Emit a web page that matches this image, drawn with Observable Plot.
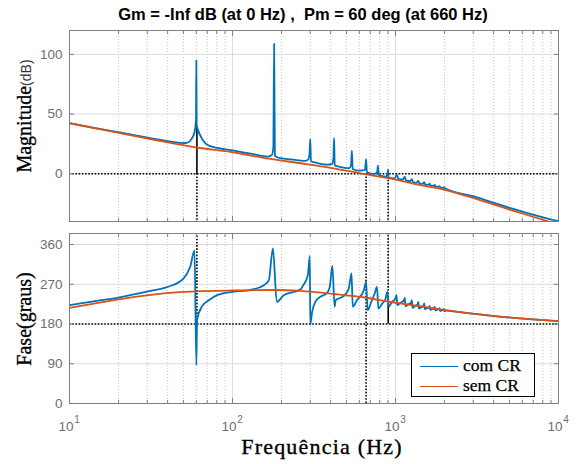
<!DOCTYPE html>
<html><head><meta charset="utf-8">
<script src="https://cdn.jsdelivr.net/npm/d3@7"></script>
<script src="https://cdn.jsdelivr.net/npm/@observablehq/plot@0.6"></script>
<style>
body{margin:0;background:#fff;}
#wrap{position:relative;width:580px;height:464px;overflow:hidden;background:#fff;font-family:"Liberation Sans",Arial,sans-serif;}
#wrap svg{position:absolute;left:0;overflow:visible;}
.abs{position:absolute;white-space:nowrap;line-height:1;}
.title{font-weight:bold;font-size:16.5px;color:#000;transform:translateX(-50%);}
.ylab{transform:translate(-50%,-50%) rotate(-90deg);color:#000;}
.serif{font-family:"Liberation Serif","Times New Roman",serif;-webkit-text-stroke:0.35px #000;}
.legend{border:1.5px solid #000;background:#fff;box-sizing:border-box;}
.legend .row{position:absolute;left:8px;height:20px;display:flex;align-items:center;}
.legend .sw{width:38px;height:0;border-top:1.5px solid;margin-right:5px;}
.legend .tx{font-family:"Liberation Serif",serif;font-size:17.5px;color:#000;-webkit-text-stroke:0.25px #000;}
</style></head><body><div id="wrap"></div><script>
// ---------- data ----------
const decades = [10, 100, 1000, 10000];
const decadeExps = ["1", "2", "3", "4"];
const magTicks = [0, 50, 100];
const phaseTicks = [0, 90, 180, 270, 360];
const magDomain = [-40, 120];
const phaseDomain = [0, 385];

// "com CR" magnitude (dB)
const comMagFreq = [10,15,20,31.4,42,50,53,56,58.5,59.7,60,60.3,71.6,100,130,165,174,178,180,182,190,230,280,292,297,300,303,320,380,410,416,420,424,450,520,534,540,546,600,650,660,668,740,772,780,790,870,894,900,908,990,1020,1040,1110,1140,1160,1230,1260,1280,1350,1380,1400,1470,1500,1520,1590,1620,1640,1710,1740,1760,1830,1860,1880,1950,1980,2000,3020,5000,8710,10000];
const comMag = [42.5,37.8,34.8,29.8,26.8,25.6,26,29,35,45,95,39.7,23.5,19.5,16.8,14.4,15.5,22,109,15,13.6,12,10.8,12,17,29,10.5,9.5,7.6,8.3,13,30,7,6,4.6,7.5,19.3,4,2.6,3,12.3,1.2,-0.2,1.5,6.7,-1.2,-2.4,0,3.4,-3.2,-3.8,-0.8,-4.3,-4.8,-2.5,-5.6,-6.3,-4.5,-6.9,-7.5,-5.9,-8,-8.5,-7,-8.9,-9.4,-8.2,-9.7,-10.2,-9.3,-10.5,-11,-10.3,-11.3,-11.8,-11.3,-12,-19,-28.5,-37.8,-39.7];

// "sem CR" magnitude (dB)
const semMagFreq = [10,15,20,31.4,45,60,100,167,261,400,660,1000,1420,2000,3020,5000,8710,10000];
const semMag = [42.3,37.6,34.3,29.1,25,22,18,12.6,8.8,5,-0.5,-5,-9.5,-13.5,-20.5,-30,-40,-42.5];

// "com CR" phase (deg)
const comPhFreq = [10,15,20,31.4,40,50,55,58.5,60,60.6,65,71.6,80.5,100,128,156,167,177,187,206,261,272,290,298,300,308,322,345,380,395,410,423,430,480,517,537,547,580,640,660,675,710,745,770,785,830,870,890,910,950,995,1014,1025,1070,1125,1140,1152,1200,1248,1260,1272,1325,1368,1380,1392,1445,1488,1500,1512,1565,1608,1620,1632,1690,1728,1740,1752,1810,1848,1860,1872,1930,1968,1980,1992,2050,2200,3800,7000,10000];
const comPh = [223,233,240,255,264,283,309.5,347,87,189,220,234,245.5,253,257,268,279,351,230,245,258,268,290.7,334,179,207.6,230,241.6,250,264,311.7,219,234,243,260.6,294.5,219,234,256.7,275.6,211.5,230,249,264,215,226.6,238,253,219,230,237,245.4,222.8,228,233,239.4,220,224.5,229,234,216.7,221.5,225.5,230,215,218.5,222,226.6,213.7,216,218.5,221,212,214,216.5,218.5,211,212.5,214.5,216,210,211,212.5,214,209.5,210.5,209,199,190.5,186.5];

// "sem CR" phase (deg)
const semPhFreq = [10,15,20,31.4,45,60,100,180,261,420,660,900,1500,2000,3800,7000,10000];
const semPh = [216.5,228,236,246,251.5,254,256,257,255,248,239.5,231,219,212,199,190.5,186.5];

// margin markers
const marginFreqs = [60.5, 660, 902];
const gmMag = [39.7];
const pmPhase = [225];

const seriesNames = ["com CR", "sem CR"];
// ---------------------------------------------------

const blue = "#0072BD", orange = "#D95319";
const gridMajor = "#dcdcdc", gridMinor = "#c4c4c4", axisCol = "#808080", labCol = "#6e6e6e";
const rows = (f, v) => f.map((x, i) => ({f: x, v: v[i]}));
const minor = decades.slice(0, 3).flatMap(d => [2,3,4,5,6,7,8,9].map(m => d * m));
const dotted = {stroke: "#000", strokeWidth: 1.6, strokeDasharray: "1.6,1.6"};
const sans = "Liberation Sans, Arial, sans-serif";

function frameMarks(yTicks) {
  return [
    Plot.ruleX(minor, {stroke: gridMinor, strokeWidth: 1, strokeDasharray: "1,2"}),
    Plot.ruleX(decades, {stroke: gridMajor, strokeWidth: 1}),
    Plot.ruleY(yTicks, {stroke: gridMajor, strokeWidth: 1}),
  ];
}
function axesMarks(yTicks) {
  const t = {fill: "none", stroke: axisCol, label: null};
  return [
    Plot.axisX(decades, {...t, anchor: "bottom", tickSize: -5}),
    Plot.axisX(decades, {...t, anchor: "top", tickSize: -5}),
    Plot.axisX(minor, {...t, anchor: "bottom", tickSize: -3}),
    Plot.axisX(minor, {...t, anchor: "top", tickSize: -3}),
    Plot.axisY(yTicks, {...t, anchor: "left", tickSize: -5}),
    Plot.axisY(yTicks, {...t, anchor: "right", tickSize: -5}),
    Plot.axisY(yTicks, {anchor: "left", tickSize: 0, tickPadding: 7, fill: labCol, fontSize: 13.5, label: null, fontFamily: sans}),
    Plot.frame({stroke: axisCol, strokeWidth: 1})
  ];
}
const lineOpts = (c) => ({x: "f", y: "v", stroke: c, strokeWidth: 1.8, curve: "monotone-x", clip: true});

const magPlot = Plot.plot({
  width: 580, height: 230, marginLeft: 69, marginRight: 22, marginTop: 30, marginBottom: 9,
  x: {type: "log", domain: [10, 10000], label: null, axis: null},
  y: {domain: magDomain, label: null, axis: null},
  style: {background: "transparent"},
  marks: [
    ...frameMarks(magTicks),
    Plot.ruleY([0], dotted),
    Plot.ruleX(marginFreqs, {x: d => d, y1: 0, y2: magDomain[0], ...dotted}),
    Plot.ruleX(marginFreqs.slice(0, 1), {x: d => d, y1: 0, y2: gmMag[0], stroke: "#000", strokeWidth: 1.6}),
    Plot.line(rows(comMagFreq, comMag), lineOpts(blue)),
    Plot.line(rows(semMagFreq, semMag), lineOpts(orange)),
    ...axesMarks(magTicks)
  ]
});

const phPlot = Plot.plot({
  width: 580, height: 234, marginLeft: 69, marginRight: 22, marginTop: 3, marginBottom: 61,
  x: {type: "log", domain: [10, 10000], label: null, axis: null},
  y: {domain: phaseDomain, label: null, axis: null},
  style: {background: "transparent"},
  marks: [
    ...frameMarks(phaseTicks),
    Plot.ruleY([180], dotted),
    Plot.ruleX([marginFreqs[0]], {x: d => d, y1: 180, y2: phaseDomain[1], ...dotted}),
    Plot.ruleX([marginFreqs[1]], {x: d => d, y1: 0, y2: phaseDomain[1], ...dotted}),
    Plot.ruleX([marginFreqs[2]], {x: d => d, y1: pmPhase[0], y2: phaseDomain[1], ...dotted}),
    Plot.ruleX([marginFreqs[2]], {x: d => d, y1: 180, y2: pmPhase[0], stroke: "#000", strokeWidth: 1.6}),
    Plot.line(rows(comPhFreq, comPh), lineOpts(blue)),
    Plot.line(rows(semPhFreq, semPh), lineOpts(orange)),
    ...axesMarks(phaseTicks),
    Plot.text(decades, {x: d => d, y: phaseDomain[0], text: () => "10", dy: 23, dx: -3.5, fill: labCol, fontSize: 13.5, textAnchor: "middle", fontFamily: sans}),
    Plot.text(decades, {x: d => d, y: phaseDomain[0], text: (d, i) => decadeExps[i], dy: 16.5, dx: 7.5, fill: labCol, fontSize: 10, textAnchor: "middle", fontFamily: sans})
  ]
});

const wrap = document.getElementById("wrap");
magPlot.style.top = "0px";
phPlot.style.top = "230px";
wrap.appendChild(magPlot);
wrap.appendChild(phPlot);

function addDiv(cls, html, left, top) {
  const d = document.createElement("div");
  d.className = "abs " + cls;
  d.innerHTML = html;
  d.style.left = left + "px";
  d.style.top = top + "px";
  wrap.appendChild(d);
  return d;
}
addDiv("title", "Gm = -Inf dB (at 0 Hz) ,&nbsp; Pm = 60 deg (at 660 Hz)", 303, 6);
addDiv("ylab", '<span class="serif" style="font-size:20px">Magnitude</span><span style="font-size:14px;color:#333">(dB)</span>', 24, 116);
addDiv("ylab serif", '<span style="font-size:20px">Fase(graus)</span>', 24, 319);
const xl = addDiv("serif", "Frequência (Hz)", 322, 436);
xl.style.fontSize = "22px"; xl.style.letterSpacing = "1.2px"; xl.style.transform = "translateX(-50%)";

const lg = addDiv("legend", "", 411, 353);
lg.style.width = "124px"; lg.style.height = "44px";
[blue, orange].forEach((c, i) => {
  const r = document.createElement("div");
  r.className = "row";
  r.style.top = (2 + i * 20) + "px";
  r.innerHTML = `<div class="sw" style="border-color:${c}"></div><span class="tx">${seriesNames[i]}</span>`;
  lg.appendChild(r);
});
</script></body></html>
